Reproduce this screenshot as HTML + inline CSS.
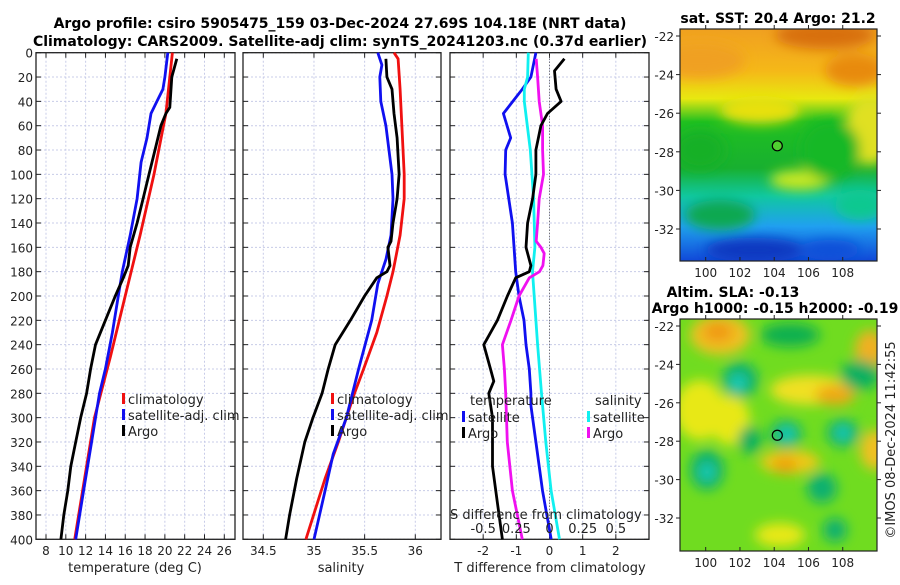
<!DOCTYPE html>
<html><head><meta charset="utf-8">
<style>
body{margin:0;background:#fff;width:900px;height:580px;overflow:hidden;font-family:"Liberation Sans","DejaVu Sans",sans-serif}
svg text{font-family:"DejaVu Sans","Liberation Sans",sans-serif}
</style></head>
<body>
<svg id="chart" width="900" height="580" viewBox="0 0 900 580" xmlns="http://www.w3.org/2000/svg">
<defs>
<filter id="blur6" x="-20%" y="-20%" width="140%" height="140%"><feGaussianBlur stdDeviation="6"/></filter>
<clipPath id="clipMap1"><rect x="680" y="29" width="197" height="232"/></clipPath>
<clipPath id="clipMap2"><rect x="680" y="319" width="197" height="232"/></clipPath>
<linearGradient id="sstGrad" x1="0" y1="0" x2="0" y2="1">
<stop offset="0" stop-color="#f0a020"/><stop offset="0.18" stop-color="#f5b818"/><stop offset="0.3" stop-color="#e8e810"/>
<stop offset="0.4" stop-color="#20c020"/><stop offset="0.6" stop-color="#18b030"/><stop offset="0.72" stop-color="#10c8a0"/>
<stop offset="0.85" stop-color="#20a0f0"/><stop offset="1" stop-color="#1048d8"/>
</linearGradient>
</defs>
<text x="340" y="28" font-size="14" font-weight="bold" text-anchor="middle">Argo profile: csiro 5905475_159 03-Dec-2024 27.69S 104.18E (NRT data)</text>
<text x="340" y="46" font-size="14" font-weight="bold" text-anchor="middle">Climatology: CARS2009. Satellite-adj clim: synTS_20241203.nc (0.37d earlier)</text>
<g id="plots"></g>
<g id="maps"></g>
</svg>
<script>
// ---- data (depth in m) ----
const tClimDepth=[0,50,100,150,200,250,300,350,400];
const tClimVal=[20.76,20.1,18.9,17.5,16.0,14.5,12.9,11.9,10.9];
const tSatDepth=[0,20,30,40,50,70,90,120,150,180,200,230,260,280,320,360,400];
const tSatVal=[20.3,20.0,19.8,19.2,18.6,18.2,17.6,17.2,16.5,15.7,15.3,14.7,14.0,13.4,12.6,11.8,11.0];
const tArgoDepth=[5,20,45,50,60,80,100,120,140,160,175,185,200,220,240,260,280,300,320,340,360,380,400];
const tArgoVal=[21.2,20.7,20.5,20.1,19.6,19.0,18.4,17.8,17.2,16.5,16.3,15.8,15.0,14.0,13.0,12.5,12.1,11.5,11.0,10.5,10.2,9.8,9.5];
const sClimDepth=[0,5,30,100,120,150,180,200,230,260,280,320,350,400];
const sClimVal=[35.79,35.83,35.85,35.89,35.89,35.85,35.78,35.72,35.62,35.49,35.4,35.24,35.11,34.92];
const sSatDepth=[0,10,20,40,60,100,120,150,170,190,220,260,300,330,360,400];
const sSatVal=[35.63,35.67,35.65,35.66,35.71,35.77,35.78,35.76,35.71,35.63,35.57,35.44,35.32,35.19,35.11,35.0];
const sArgoDepth=[5,20,30,50,70,100,120,140,155,160,175,180,185,200,220,240,260,280,300,320,350,380,400];
const sArgoVal=[35.71,35.72,35.77,35.79,35.82,35.84,35.82,35.78,35.76,35.73,35.75,35.72,35.62,35.5,35.36,35.21,35.14,35.08,34.99,34.91,34.83,34.76,34.72];
const dtSatDepth=[0,20,30,50,70,80,100,140,180,200,220,240,260,280,290,320,360,400];
const dtSatVal=[-0.41,-0.56,-0.82,-1.39,-1.17,-1.32,-1.34,-1.12,-1.02,-0.92,-0.77,-0.71,-0.61,-0.56,-0.56,-0.41,-0.21,0.05];
const dtArgoDepth=[5,15,30,40,50,60,80,100,120,140,160,175,180,185,200,220,240,260,270,280,300,340,370,400];
const dtArgoVal=[0.45,0.15,0.2,0.35,-0.06,-0.26,-0.41,-0.41,-0.51,-0.66,-0.71,-0.56,-0.61,-1.02,-1.27,-1.57,-1.98,-1.78,-1.68,-1.83,-1.72,-1.72,-1.57,-1.42];
const dsSatDepth=[0,20,30,40,80,120,160,180,200,240,280,320,360,400];
const dsSatVal=[-0.16,-0.165,-0.19,-0.19,-0.145,-0.12,-0.11,-0.128,-0.115,-0.09,-0.06,-0.028,0.012,0.075];
const dsArgoDepth=[5,20,40,60,80,100,120,140,155,160,165,175,180,185,200,220,240,260,280,320,360,400];
const dsArgoVal=[-0.1,-0.09,-0.078,-0.052,-0.052,-0.045,-0.078,-0.09,-0.1,-0.065,-0.04,-0.05,-0.075,-0.152,-0.23,-0.29,-0.355,-0.34,-0.33,-0.318,-0.28,-0.205];
const depthTicks=[0,20,40,60,80,100,120,140,160,180,200,220,240,260,280,300,320,340,360,380,400];
const tTicks=[8,10,12,14,16,18,20,22,24,26];
const sTicks=[34.5,35,35.5,36];
const dtTicks=[-2,-1,0,1,2];
const dsTickLabels=["-0.5","0.25","0","0.25","0.5"];
const lonTicks=[100,102,104,106,108];
const latTicks=[-22,-24,-26,-28,-30,-32];

const NS="http://www.w3.org/2000/svg";
function mk(tag,attrs,parent,txt){const e=document.createElementNS(NS,tag);for(const k in attrs)e.setAttribute(k,attrs[k]);if(txt!==undefined)e.textContent=txt;parent.appendChild(e);return e;}
const plots=document.getElementById('plots');
const Y0=52.7,Y1=539.3;
const yD=d=>Y0+(d/400)*(Y1-Y0);
function lin(d0,d1,r0,r1){return v=>r0+(v-d0)/(d1-d0)*(r1-r0);}
const xT=lin(8,26,46,224.3);
const xS=lin(34.5,36,263.3,415.3);
const xDT=lin(-3,3,450,649);
const xDS=v=>xDT(v*4);
const FS=12;

function panel(name,x0,x1,xticks,xf,labels){
  const g=mk('g',{},plots);
  
  
  depthTicks.forEach(d=>{const l=mk('line',{x1:x0,x2:x1,y1:yD(d),y2:yD(d),stroke:'#c8cce8','stroke-width':1,'stroke-dasharray':'2,2'},g);
    
    mk('line',{x1:x0,x2:x0+5,y1:yD(d),y2:yD(d),stroke:'#222'},g);mk('line',{x1:x1-5,x2:x1,y1:yD(d),y2:yD(d),stroke:'#222'},g);});
  xticks.forEach((t,i)=>{const x=xf(t);
    const l=mk('line',{x1:x,x2:x,y1:Y0,y2:Y1,stroke:'#c8cce8','stroke-width':1,'stroke-dasharray':'2,2'},g);
    
    mk('line',{x1:x,x2:x,y1:Y1,y2:Y1-5,stroke:'#222'},g);mk('line',{x1:x,x2:x,y1:Y0,y2:Y0+5,stroke:'#222'},g);
    const tx=mk('text',{x:x,y:555,'font-size':FS,'text-anchor':'middle',fill:'#222'},g,labels?labels[i]:String(t));
    });
  mk('rect',{x:x0,y:Y0,width:x1-x0,height:Y1-Y0,fill:'none',stroke:'#222','stroke-width':1.3},g);
  return g;
}
function series(g,name,depths,vals,xf,color){
  const pts=depths.map((d,i)=>xf(vals[i]).toFixed(1)+','+yD(d).toFixed(1)).join(' ');
  const p=mk('polyline',{points:pts,fill:'none',stroke:color,'stroke-width':2.8,'stroke-linejoin':'round'},g);
  
  
}
function legend(g,x,y,items){
  items.forEach((it,i)=>{
    mk('rect',{x:x,y:y+i*16-7,width:3,height:11,fill:it[1]},g);
    const t=mk('text',{x:x+6,y:y+i*16+4,'font-size':13,fill:'#222'},g,it[0]);
    
  });
}
depthTicks.forEach(d=>{const t=mk('text',{x:33,y:yD(d)+5,'font-size':FS,'text-anchor':'end',fill:'#222'},plots,String(d));
  });

const g1=panel('temperature-panel',36,235,tTicks,xT);
series(g1,'temp-climatology-line',tClimDepth,tClimVal,xT,'#f01010');
series(g1,'temp-satellite-line',tSatDepth,tSatVal,xT,'#1010f0');
series(g1,'temp-argo-line',tArgoDepth,tArgoVal,xT,'#000');
legend(g1,122,400,[['climatology','#f01010'],['satellite-adj. clim','#1010f0'],['Argo','#000']]);
const xl1=mk('text',{x:135,y:572,'font-size':13,'text-anchor':'middle',fill:'#222'},g1,'temperature (deg C)');


const g2=panel('salinity-panel',243,441,sTicks,xS);
series(g2,'sal-climatology-line',sClimDepth,sClimVal,xS,'#f01010');
series(g2,'sal-satellite-line',sSatDepth,sSatVal,xS,'#1010f0');
series(g2,'sal-argo-line',sArgoDepth,sArgoVal,xS,'#000');
legend(g2,331,400,[['climatology','#f01010'],['satellite-adj. clim','#1010f0'],['Argo','#000']]);
const xl2=mk('text',{x:341,y:572,'font-size':13,'text-anchor':'middle',fill:'#222'},g2,'salinity');


const g3=panel('difference-panel',450,649,dtTicks,xDT);
mk('line',{x1:xDT(0),x2:xDT(0),y1:Y0,y2:Y1,stroke:'#555','stroke-dasharray':'1,2'},g3);
series(g3,'tdiff-satellite-line',dtSatDepth,dtSatVal,xDT,'#1010f0');
series(g3,'sdiff-satellite-line',dsSatDepth,dsSatVal,xDS,'#10f0f0');
series(g3,'sdiff-argo-line',dsArgoDepth,dsArgoVal,xDS,'#f010f0');
series(g3,'tdiff-argo-line',dtArgoDepth,dtArgoVal,xDT,'#000');
mk('text',{x:470,y:405,'font-size':13,fill:'#222'},g3,'temperature');
mk('text',{x:595,y:405,'font-size':13,fill:'#222'},g3,'salinity');
legend(g3,462,418,[['satellite','#1010f0'],['Argo','#000']]);
legend(g3,587,418,[['satellite','#10f0f0'],['Argo','#f010f0']]);
mk('text',{x:450,y:519,'font-size':13,fill:'#222'},g3,'S difference from climatology');
dsTickLabels.forEach((l,i)=>{const t=mk('text',{x:xDT(dtTicks[i]),y:533,'font-size':13,'text-anchor':'middle',fill:'#222'},g3,l);
  });
const xl3=mk('text',{x:550,y:572,'font-size':13,'text-anchor':'middle',fill:'#222'},g3,'T difference from climatology');


// ---- maps ----
const maps=document.getElementById('maps');
const lonX=lin(98.5,110,680,877);
function mapAxes(g,y0,y1,latY){
  mk('rect',{x:680,y:y0,width:197,height:y1-y0,fill:'none',stroke:'#222','stroke-width':1.2},g);
  lonTicks.forEach(l=>{const x=lonX(l);mk('line',{x1:x,x2:x,y1:y1,y2:y1-4,stroke:'#222'},g);mk('line',{x1:x,x2:x,y1:y0-4,y2:y0,stroke:'#222'},g);
    const t=mk('text',{x:x,y:y1+16,'font-size':FS,'text-anchor':'middle',fill:'#222'},g,String(l));
    });
  latTicks.forEach(l=>{const y=latY(l);mk('line',{x1:877,x2:881,y1:y,y2:y,stroke:'#222'},g);mk('line',{x1:676,x2:680,y1:y,y2:y,stroke:'#222'},g);
    const t=mk('text',{x:674,y:y+5,'font-size':FS,'text-anchor':'end',fill:'#222'},g,String(l));
    });
}
const m1=mk('g',{},maps);


const latY1=lin(-22,-32,36,229);
const c1=mk('g',{'clip-path':'url(#clipMap1)'},m1);
mk('rect',{x:680,y:29,width:197,height:232,fill:'url(#sstGrad)'},c1);
const b1=mk('g',{filter:'url(#blur6)'},c1);
[[825,35,50,14,'#d87010'],[700,60,45,18,'#f0a020'],[855,70,30,16,'#e88a10'],[760,110,40,14,'#e8e010'],[870,130,25,35,'#e0e020'],
 [800,180,30,10,'#c8e820'],[720,215,35,15,'#10a850'],[860,205,25,15,'#10c890'],[755,250,50,12,'#1038c0'],[830,250,30,10,'#1050d8'],
 [700,150,25,20,'#18b028'],[830,150,30,30,'#18b828']].forEach(e=>mk('ellipse',{cx:e[0],cy:e[1],rx:e[2],ry:e[3],fill:e[4]},b1));
mk('circle',{cx:lonX(104.18),cy:latY1(-27.69),r:5,fill:'#50d030',stroke:'#000','stroke-width':1.2},m1);
mapAxes(m1,29,261,latY1);
mk('text',{x:778,y:23,'font-size':14,'font-weight':'bold','text-anchor':'middle'},m1,'sat. SST: 20.4 Argo: 21.2');
const m2=mk('g',{},maps);


const latY2=lin(-22,-32,326,518);
const c2=mk('g',{'clip-path':'url(#clipMap2)'},m2);
mk('rect',{x:680,y:319,width:197,height:232,fill:'#70dc20'},c2);
const b2=mk('g',{filter:'url(#blur6)'},c2);
[[720,335,30,20,'#f0c020'],[718,332,15,10,'#f09a18'],[870,350,15,20,'#f0b020'],[810,390,40,15,'#f0e020'],[835,395,20,10,'#f0a818'],
 [700,410,25,30,'#e8e818'],[790,462,30,12,'#f0c818'],[785,465,12,8,'#f0a010'],[875,450,15,20,'#f0c020'],[780,535,25,12,'#e8e818'],
 [730,420,20,25,'#e8e818'],[740,380,18,18,'#10b070'],[738,383,8,8,'#20d0c0'],[786,434,16,14,'#10b070'],[787,434,8,7,'#20d0c0'],
 [843,433,16,14,'#10b070'],[843,433,7,7,'#20d0c0'],[707,470,17,20,'#10b070'],[707,472,7,8,'#20d0c0'],[822,488,15,15,'#10b070'],
 [835,530,12,12,'#10b070'],[750,440,12,14,'#10b060'],[790,335,30,12,'#10b050'],[860,375,20,15,'#10b060']].forEach(e=>mk('ellipse',{cx:e[0],cy:e[1],rx:e[2],ry:e[3],fill:e[4]},b2));
mk('circle',{cx:lonX(104.18),cy:latY2(-27.69),r:5,fill:'none',stroke:'#000','stroke-width':1.2},m2);
mapAxes(m2,319,551,latY2);
mk('text',{x:733,y:297,'font-size':14,'font-weight':'bold','text-anchor':'middle'},m2,'Altim. SLA: -0.13');
mk('text',{x:775,y:313,'font-size':14,'font-weight':'bold','text-anchor':'middle'},m2,'Argo h1000: -0.15 h2000: -0.19');
const cr=mk('text',{x:0,y:0,'font-size':13,'text-anchor':'middle',fill:'#222',transform:'translate(895,440) rotate(-90)'},m2,'©IMOS 08-Dec-2024 11:42:55');

</script>
</body></html>
